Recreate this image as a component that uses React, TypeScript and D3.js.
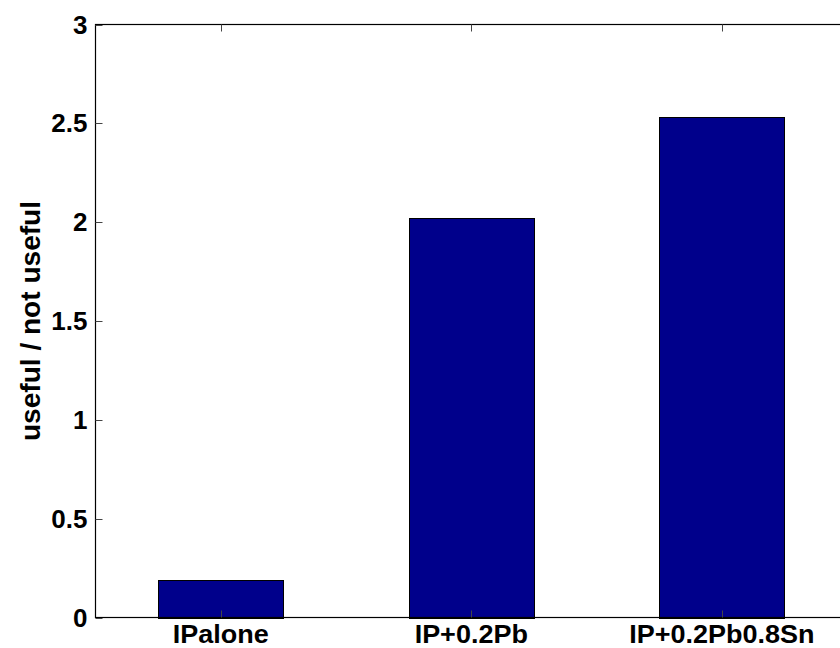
import React from "react";
import * as d3 from "d3";

const categories = ["IPalone", "IP+0.2Pb", "IP+0.2Pb0.8Sn"];
const values = [0.19, 2.02, 2.53];
const yTicks = [0, 0.5, 1, 1.5, 2, 2.5, 3];
const yTickLabels = ["0", "0.5", "1", "1.5", "2", "2.5", "3"];
const yLabel = "useful / not useful";

export default function App() {
  const W = 840, H = 648;
  const left = 95.5, top = 24.5, bottom = 617.5;
  const unit = 250.5;
  const x = d3.scaleLinear().domain([0.5, 3.5]).range([left, left + 3 * unit]);
  const y = d3.scaleLinear().domain([0, 3]).range([bottom, top]);
  const barW = 0.5;
  const font = "'Liberation Sans', Arial, Helvetica, sans-serif";
  const tickLen = 7;
  const xr = x(3.5);
  return (
    <svg width={W} height={H} style={{ position: "absolute", left: 0, top: 0, background: "#fff" }}>
      <rect x={0} y={0} width={W} height={H} fill="#fff" />
      {values.map((v, i) => (
        <rect key={i}
          x={Math.round(x(i + 1 - barW / 2)) + 0.5}
          y={Math.round(y(v)) + 0.5}
          width={Math.round(x(i + 1 + barW / 2)) - Math.round(x(i + 1 - barW / 2))}
          height={Math.round(y(0)) - Math.round(y(v))}
          fill="#00008b" stroke="#000" strokeWidth={1} />
      ))}
      <rect x={left} y={top} width={xr - left} height={bottom - top} fill="none" stroke="#000" strokeWidth={1.2} />
      {yTicks.map((t, i) => (
        <g key={i}>
          <line x1={left} x2={left + tickLen} y1={Math.round(y(t)) + 0.5} y2={Math.round(y(t)) + 0.5} stroke="#444" />
          <line x1={xr} x2={xr - tickLen} y1={Math.round(y(t)) + 0.5} y2={Math.round(y(t)) + 0.5} stroke="#444" />
          <text x={left - 8} y={y(t)} dy="0.35em" textAnchor="end" fontFamily={font} fontWeight="bold" fontSize={26} fill="#000">{yTickLabels[i]}</text>
        </g>
      ))}
      {categories.map((c, i) => (
        <g key={c}>
          <line x1={Math.round(x(i + 1)) + 0.5} x2={Math.round(x(i + 1)) + 0.5} y1={bottom} y2={bottom - tickLen} stroke="#444" />
          <line x1={Math.round(x(i + 1)) + 0.5} x2={Math.round(x(i + 1)) + 0.5} y1={top} y2={top + tickLen} stroke="#444" />
          <text transform={`translate(${x(i + 1)},643) scale(1.08,1)`} textAnchor="middle" fontFamily={font} fontWeight="bold" fontSize={25} fill="#000">{c}</text>
        </g>
      ))}
      <text transform={`translate(40,${(top + bottom) / 2}) rotate(-90) scale(1.04,1)`} textAnchor="middle" fontFamily={font} fontWeight="bold" fontSize={27} fill="#000">{yLabel}</text>
    </svg>
  );
}
